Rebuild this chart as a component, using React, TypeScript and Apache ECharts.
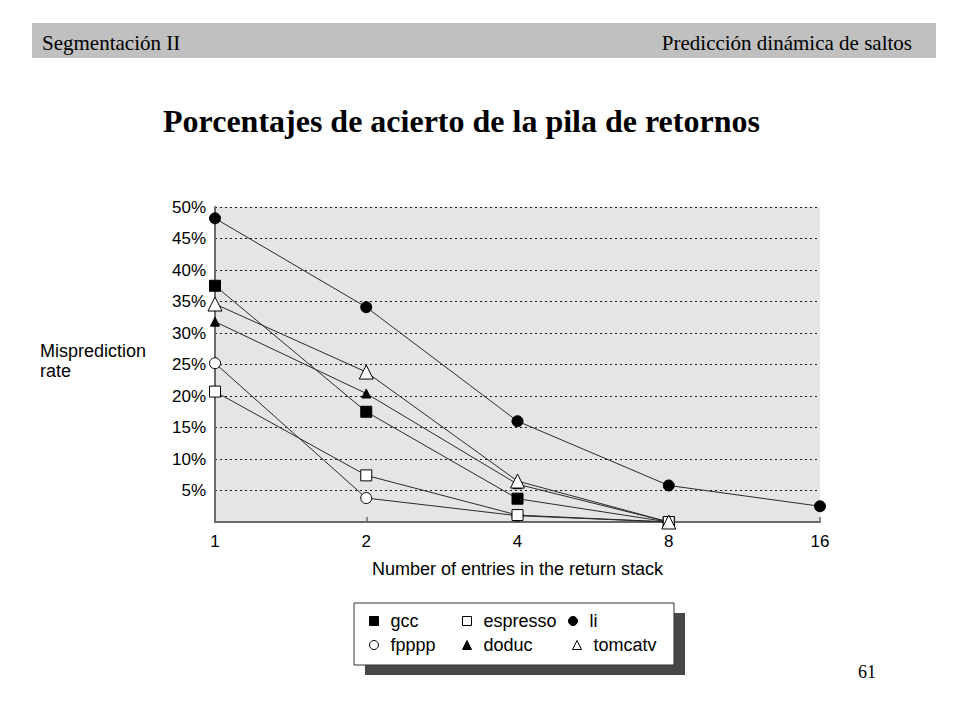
import * as echarts from "echarts";
import React, { useEffect, useRef } from "react";

const entries = ["1", "2", "4", "8", "16"];
const yTicks = [0, 5, 10, 15, 20, 25, 30, 35, 40, 45, 50];

const gcc = [37.5, 17.5, 3.7, 0, null];
const espresso = [20.7, 7.4, 1.1, 0, null];
const li = [48.2, 34.1, 16.0, 5.8, 2.5];
const fpppp = [25.2, 3.8, 1.0, 0, null];
const doduc = [31.8, 20.4, 6.0, 0, null];
const tomcatv = [34.6, 23.8, 6.5, 0, null];

const SANS = "'Liberation Sans', Arial, sans-serif";
const SERIF = "'Liberation Serif', 'Times New Roman', serif";

const App: React.FC = () => {
  const chartRef = useRef<HTMLDivElement | null>(null);

  useEffect(() => {
    document.body.style.margin = "0";
    if (!chartRef.current) return;
    const chart = echarts.init(chartRef.current, undefined, { renderer: "svg" });

    const lineSeries = (
      name: string,
      data: (number | null)[],
      symbol: string,
      size: number,
      filled: boolean
    ) => ({
      name,
      type: "line" as const,
      data,
      symbol,
      symbolSize: size,
      showAllSymbol: true,
      clip: false,
      lineStyle: { color: "#2a2a2a", width: 1 },
      itemStyle: {
        color: filled ? "#000" : "#fff",
        borderColor: "#000",
        borderWidth: 1,
      },
      emphasis: { disabled: true },
    });

    const legendItem = (
      name: string,
      icon: string,
      filled: boolean,
      left: number,
      top: number
    ) => ({
      data: [
        {
          name,
          icon,
          itemStyle: {
            color: filled ? "#000" : "#fff",
            borderColor: "#000",
            borderWidth: 1,
          },
        },
      ],
      left,
      top,
      padding: 0,
      itemWidth: 9,
      itemHeight: 9,
      selectedMode: false,
      z: 100,
      textStyle: {
        fontFamily: SANS,
        fontSize: 18,
        color: "#000",
        padding: [0, 0, 0, 7],
      },
    });

    const option: echarts.EChartsOption = {
      animation: false,
      backgroundColor: "#fff",
      grid: {
        left: 215,
        right: 140,
        top: 207,
        bottom: 198,
        show: true,
        backgroundColor: "#e5e5e5",
        borderWidth: 0,
      },
      xAxis: {
        type: "category",
        data: entries,
        boundaryGap: false,
        axisLine: { lineStyle: { color: "#6a6a6a", width: 2 } },
        axisTick: {
          show: true,
          inside: true,
          length: 5,
          lineStyle: { color: "#6a6a6a", width: 1.5 },
        },
        axisLabel: {
          color: "#000",
          fontFamily: SANS,
          fontSize: 17,
          margin: 11,
        },
        name: "Number of entries in the return stack",
        nameLocation: "middle",
        nameGap: 38,
        nameTextStyle: { color: "#000", fontFamily: SANS, fontSize: 18 },
        splitLine: { show: false },
      },
      yAxis: {
        type: "value",
        min: yTicks[0],
        max: yTicks[yTicks.length - 1],
        interval: 5,
        axisLine: { show: true, lineStyle: { color: "#6a6a6a", width: 2 } },
        axisTick: { show: false },
        axisLabel: {
          color: "#000",
          fontFamily: SANS,
          fontSize: 17,
          margin: 9,
          formatter: (v: number) => (v === 0 ? "" : `${v}%`),
        },
        splitLine: {
          show: true,
          lineStyle: { color: "#1a1a1a", width: 1, type: [2, 3] },
        },
      },
      legend: [
        legendItem("gcc", "rect", true, 369, 612),
        legendItem("espresso", "rect", false, 462, 612),
        legendItem("li", "circle", true, 568, 612),
        legendItem("fpppp", "circle", false, 369, 636),
        legendItem("doduc", "triangle", true, 462, 636),
        legendItem("tomcatv", "triangle", false, 572, 636),
      ],
      series: [
        lineSeries("li", li, "circle", 11, true),
        lineSeries("gcc", gcc, "rect", 11, true),
        lineSeries("doduc", doduc, "triangle", 9, true),
        lineSeries("fpppp", fpppp, "circle", 11, false),
        lineSeries("espresso", espresso, "rect", 11, false),
        lineSeries("tomcatv", tomcatv, "triangle", 14, false),
      ],
      graphic: [
        {
          type: "rect",
          shape: { x: 32, y: 23, width: 904, height: 35 },
          style: { fill: "#c0c0c0" },
          z: 0,
        },
        {
          type: "text",
          x: 42,
          y: 43,
          style: {
            text: "Segmentación II",
            font: `21px ${SERIF}`,
            fill: "#000",
            verticalAlign: "middle",
          },
          z: 1,
        },
        {
          type: "text",
          x: 912,
          y: 43,
          style: {
            text: "Predicción dinámica de saltos",
            font: `21px ${SERIF}`,
            fill: "#000",
            align: "right",
            verticalAlign: "middle",
          },
          z: 1,
        },
        {
          type: "text",
          x: 163,
          y: 121,
          style: {
            text: "Porcentajes de acierto de la pila de retornos",
            font: `bold 32px ${SERIF}`,
            fill: "#000",
            verticalAlign: "middle",
          },
          z: 1,
        },
        {
          type: "text",
          x: 40,
          y: 341,
          style: {
            text: "Misprediction\nrate",
            font: `18px ${SANS}`,
            lineHeight: 20,
            fill: "#000",
            verticalAlign: "top",
          },
          z: 1,
        },
        {
          type: "rect",
          shape: { x: 365, y: 613, width: 320, height: 62 },
          style: { fill: "#474747" },
          z: 1,
        },
        {
          type: "rect",
          shape: { x: 354, y: 603, width: 320, height: 62 },
          style: { fill: "#fff", stroke: "#333", lineWidth: 1 },
          z: 2,
        },
        {
          type: "text",
          x: 858,
          y: 672,
          style: {
            text: "61",
            font: `18px ${SERIF}`,
            fill: "#000",
            verticalAlign: "middle",
          },
          z: 1,
        },
      ],
    };

    chart.setOption(option);

    return () => {
      chart.dispose();
    };
  }, []);

  return <div ref={chartRef} style={{ width: "960px", height: "720px" }} />;
};

export default App;
